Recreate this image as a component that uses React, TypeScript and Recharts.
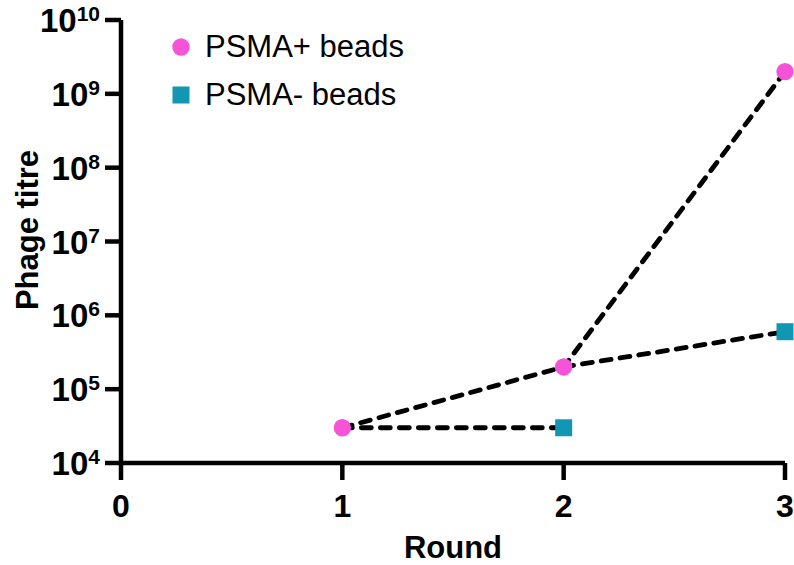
import React from 'react';
import { ComposedChart, Line, XAxis, YAxis, Label } from 'recharts';

const rounds = [1, 2, 3];
const psmaPlus = [3e4, 2e5, 2e9];
const psmaMinus = [3e4, 3e4, 6e5];
const xTicks = [0, 1, 2, 3];
const yTicks = [1e4, 1e5, 1e6, 1e7, 1e8, 1e9, 1e10];
const seriesNames = ['PSMA+ beads', 'PSMA- beads'];

const PINK = '#f653d9';
const TEAL = '#1297b2';
const FONT = 'Liberation Sans, Arial, sans-serif';

// points for the markers
const plusPoints = rounds.map((r, i) => ({ x: r, y: psmaPlus[i] }));
// round 1 minus square sits under the pink circle, so only rounds 2 and 3 are drawn
const minusPoints = rounds.slice(1).map((r, i) => ({ x: r, y: psmaMinus[i + 1] }));
// dashed connectors as they appear in the figure
const lineLow = [
    { x: rounds[0], y: psmaMinus[0] },
    { x: rounds[1], y: psmaMinus[1] },
];
const lineMid = [
    { x: rounds[1], y: psmaPlus[1] },
    { x: rounds[2], y: psmaMinus[2] },
];

const dash = { stroke: '#000', strokeWidth: 4.8, strokeDasharray: '10 9', strokeLinecap: 'round' as const };

const YTick = ({ x, y, payload }: any) => {
    const exp = Math.round(Math.log10(payload.value));
    return (
        <text x={x} y={y + 12} textAnchor="end" fontFamily={FONT} fontWeight="bold" fill="#000">
            <tspan fontSize={33}>10</tspan>
            <tspan fontSize={21} dy={-11}>{exp}</tspan>
        </text>
    );
};

const Circle = ({ cx, cy }: any) => <circle cx={cx} cy={cy} r={8.7} fill={PINK} />;
const Square = ({ cx, cy }: any) => <rect x={cx - 8.5} y={cy - 8.5} width={17} height={17} fill={TEAL} />;

const LegendBox = () => (
    <div style={{ position: 'absolute', left: 171, top: 23, fontFamily: FONT, fontSize: 31, color: '#000', lineHeight: '48px' }}>
        <div style={{ display: 'flex', alignItems: 'center' }}>
            <svg width={34} height={20}><circle cx={10} cy={10} r={8.7} fill={PINK} /></svg>
            <span>{seriesNames[0]}</span>
        </div>
        <div style={{ display: 'flex', alignItems: 'center' }}>
            <svg width={34} height={20}><rect x={1.5} y={1.5} width={17} height={17} fill={TEAL} /></svg>
            <span>{seriesNames[1]}</span>
        </div>
    </div>
);

const App = () => {
    return (
        <div style={{ position: 'absolute', left: 0, top: 0, width: 794, height: 565, background: '#fff' }}>
            <ComposedChart width={794} height={565} margin={{ top: 20, right: 9, bottom: 0, left: 0 }}>
                <XAxis
                    type="number"
                    dataKey="x"
                    domain={[0, 3]}
                    ticks={xTicks}
                    height={102}
                    tickSize={17}
                    tickMargin={14}
                    axisLine={{ stroke: '#000', strokeWidth: 4.5 }}
                    tickLine={{ stroke: '#000', strokeWidth: 4.5 }}
                    tick={{ fill: '#000', fontSize: 32, fontWeight: 'bold', fontFamily: FONT }}
                >
                    <Label value="Round" position="insideBottom" offset={7} fill="#000" fontSize={31} fontWeight="bold" fontFamily={FONT} />
                </XAxis>
                <YAxis
                    type="number"
                    scale="log"
                    domain={[1e4, 1e10]}
                    ticks={yTicks}
                    allowDataOverflow
                    width={121}
                    tickSize={16}
                    tickMargin={5}
                    axisLine={{ stroke: '#000', strokeWidth: 4.5 }}
                    tickLine={{ stroke: '#000', strokeWidth: 4.5 }}
                    tick={<YTick />}
                >
                    <Label
                        content={() => (
                            <text x={38} y={230} transform="rotate(-90 38 230)" textAnchor="middle" fontFamily={FONT} fontWeight="bold" fontSize={31} fill="#000">
                                Phage titre
                            </text>
                        )}
                    />
                </YAxis>
                <Line data={plusPoints} dataKey="y" {...dash} dot={false} isAnimationActive={false} legendType="none" />
                <Line data={lineLow} dataKey="y" {...dash} dot={false} isAnimationActive={false} legendType="none" />
                <Line data={lineMid} dataKey="y" {...dash} dot={false} isAnimationActive={false} legendType="none" />
                <Line data={minusPoints} dataKey="y" stroke="none" dot={<Square />} isAnimationActive={false} legendType="none" />
                <Line data={plusPoints} dataKey="y" stroke="none" dot={<Circle />} isAnimationActive={false} legendType="none" />
            </ComposedChart>
            <LegendBox />
        </div>
    );
};

export default App;
